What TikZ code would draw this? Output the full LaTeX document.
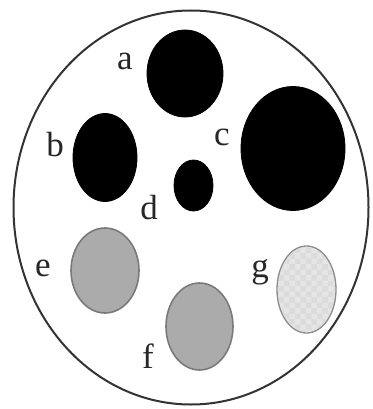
\documentclass[tikz,border=0pt]{standalone}
\usepackage{fontspec}
\setmainfont{Liberation Serif}
\usetikzlibrary{shapes.geometric,patterns}
\begin{document}
\begin{tikzpicture}[x=1pt,y=-1pt,
  blob/.style={ellipse,inner sep=0pt,fill=black,draw=black,line width=0.8pt},
  greyblob/.style={ellipse,inner sep=0pt,fill=black!33,draw=black!52,line width=1.6pt},
  hatchblob/.style={ellipse,inner sep=0pt,fill=black!10,draw=black!45,line width=1.3pt},
  lbl/.style={inner sep=0pt,text=black!85,font=\fontsize{35}{35}\selectfont}]
\useasboundingbox (0,0) rectangle (372,409);
\node[ellipse,inner sep=0pt,draw=black!80,line width=2pt,minimum width=355pt,minimum height=394pt] (dish) at (191,207.5) {};
\node[blob,minimum width=76pt,minimum height=87pt] (a) at (185,73.5) {};
\node[blob,minimum width=64pt,minimum height=88pt] (b) at (105,157.5) {};
\node[blob,minimum width=104pt,minimum height=124pt] (c) at (293,148.5) {};
\node[blob,minimum width=39pt,minimum height=51pt] (d) at (193.5,185.5) {};
\node[greyblob,minimum width=68pt,minimum height=85pt] (e) at (105,270.5) {};
\node[greyblob,minimum width=67pt,minimum height=87pt] (f) at (199.5,326.5) {};
\node[hatchblob,minimum width=59pt,minimum height=87pt] (g) at (306.5,289.5) {};
\fill[pattern=checkerboard,pattern color=black!14] (g.center) ellipse[x radius=28pt,y radius=42pt];
\node[lbl] (la) at (125,61) {a};
\node[lbl] (lb) at (55,145) {b};
\node[lbl] (lc) at (222,137) {c};
\node[lbl] (ld) at (149,208) {d};
\node[lbl] (le) at (43,268) {e};
\node[lbl] (lf) at (148,356) {f};
\node[lbl] (lg) at (260,272) {g};
\end{tikzpicture}
\end{document}
